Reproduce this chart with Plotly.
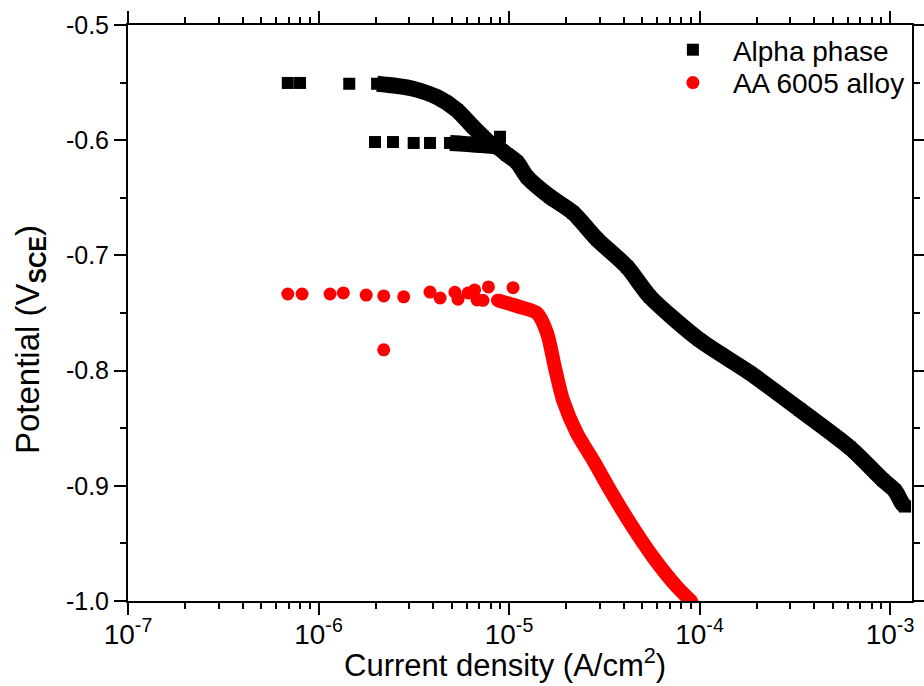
import numpy as np
import plotly.graph_objects as go

# ---- Alpha phase polarisation data (current density in A/cm^2, potential in V vs SCE)
alpha_sparse_i = [6.9e-7, 8.0e-7, 1.45e-6, 8.97e-6, 1.98e-6, 2.46e-6, 3.16e-6, 3.85e-6]
alpha_sparse_e = [-0.5503, -0.5503, -0.551, -0.597, -0.6016, -0.6016, -0.6024, -0.6024]

alpha_upper_i = [2.03e-6, 3.02e-6, 4.19e-6, 5.33e-6, 6.47e-6, 7.3e-6, 8.2e-6]
alpha_upper_e = [-0.551, -0.5547, -0.5625, -0.5738, -0.5885, -0.597, -0.605]

alpha_lower_i = [4.9e-6, 6.8e-6, 8.65e-6, 9.77e-6, 1.1e-5, 1.245e-5, 1.64e-5, 2.17e-5,
                 2.9e-5, 4.17e-5, 5.5e-5, 1.0e-4, 1.84e-4, 3.37e-4, 6.17e-4, 9.2e-4,
                 1.06e-3, 1.156e-3, 1.2e-3]
alpha_lower_e = [-0.6024, -0.604, -0.606, -0.6125, -0.619, -0.632, -0.649, -0.663,
                 -0.686, -0.71, -0.736, -0.7734, -0.802, -0.834, -0.867, -0.895,
                 -0.904, -0.915, -0.918]

# ---- AA 6005 alloy polarisation data
alloy_sparse_i = [6.9e-7, 8.2e-7, 1.15e-6, 1.35e-6, 1.78e-6, 2.2e-6, 2.8e-6, 3.85e-6,
                  4.35e-6, 5.2e-6, 5.4e-6, 6.1e-6, 6.6e-6, 6.8e-6, 7.3e-6, 7.8e-6,
                  1.05e-5, 2.2e-6]
alloy_sparse_e = [-0.7335, -0.7335, -0.7335, -0.7326, -0.7344, -0.7352, -0.736, -0.7318,
                  -0.737, -0.732, -0.738, -0.7326, -0.730, -0.7387, -0.739, -0.7274,
                  -0.728, -0.782]

alloy_curve_i = [8.7e-6, 1.143e-5, 1.40e-5, 1.585e-5, 1.74e-5, 1.92e-5, 2.27e-5, 2.76e-5,
                 3.39e-5, 4.32e-5, 5.70e-5, 7.62e-5, 9.14e-5]
alloy_curve_e = [-0.739, -0.7448, -0.750, -0.7674, -0.7969, -0.8255, -0.8542, -0.8776,
                 -0.9036, -0.9323, -0.9618, -0.9878, -1.0009]

# ---- Axis ticks
x_tick_vals = [1e-7, 1e-6, 1e-5, 1e-4, 1e-3]
x_tick_text = ["10<sup>-7</sup>", "10<sup>-6</sup>", "10<sup>-5</sup>",
               "10<sup>-4</sup>", "10<sup>-3</sup>"]
y_tick_vals = [-0.5, -0.6, -0.7, -0.8, -0.9, -1.0]
y_tick_text = ["-0.5", "-0.6", "-0.7", "-0.8", "-0.9", "-1.0"]

x_range_log = [-7.0, -2.8845]
x_minor_vals = [k * 10.0 ** p for p in range(-7, -2) for k in range(2, 10)
                if np.log10(k * 10.0 ** p) < x_range_log[1]]

FONT = "Liberation Sans, Arial, sans-serif"
BLACK = "#000000"
RED = "#ff0000"

fig = go.Figure()

# dense measurement stretches are drawn as thick smoothed traces through the read points
for xs, ys in [(alpha_upper_i, alpha_upper_e), (alpha_lower_i, alpha_lower_e)]:
    fig.add_trace(go.Scatter(x=xs, y=ys, mode="lines+markers",
                             line=dict(color=BLACK, width=16, shape="spline", smoothing=0.7),
                             marker=dict(symbol="square", size=12, color=BLACK),
                             showlegend=False, hoverinfo="x+y"))
fig.add_trace(go.Scatter(x=alloy_curve_i, y=alloy_curve_e, mode="lines+markers",
                         line=dict(color=RED, width=14, shape="spline", smoothing=0.7),
                         marker=dict(symbol="circle", size=13, color=RED),
                         showlegend=False, hoverinfo="x+y"))

# scattered points, which also carry the legend entries (one legend box per series)
fig.add_trace(go.Scatter(x=alpha_sparse_i, y=alpha_sparse_e, mode="markers",
                         name="Alpha phase", legend="legend",
                         marker=dict(symbol="square", size=12, color=BLACK)))
fig.add_trace(go.Scatter(x=alloy_sparse_i, y=alloy_sparse_e, mode="markers",
                         name="AA 6005 alloy", legend="legend2",
                         marker=dict(symbol="circle", size=13, color=RED)))

legend_style = dict(xanchor="left", yanchor="top", bgcolor="rgba(0,0,0,0)",
                    font=dict(size=28, family=FONT), itemwidth=70)

fig.update_layout(
    width=924, height=686,
    margin=dict(l=128, r=12, t=25, b=85),
    paper_bgcolor="white", plot_bgcolor="white",
    font=dict(family=FONT, color=BLACK, size=24),
    legend=dict(x=0.6695, y=1.0, **legend_style),
    legend2=dict(x=0.6695, y=0.943, **legend_style),
    xaxis=dict(type="log", range=x_range_log, automargin=False,
               tickmode="array", tickvals=x_tick_vals, ticktext=x_tick_text,
               ticks="outside", ticklen=12, tickwidth=2, tickcolor=BLACK,
               ticklabelstandoff=-5,
               minor=dict(tickmode="array", tickvals=x_minor_vals, ticks="outside",
                          ticklen=6, tickwidth=1.5, tickcolor=BLACK, showgrid=False),
               showline=True, linewidth=2, linecolor=BLACK, mirror="ticks",
               showgrid=False, zeroline=False,
               tickfont=dict(size=28, family=FONT)),
    yaxis=dict(range=[-1.0, -0.5], automargin=False,
               tickmode="array", tickvals=y_tick_vals, ticktext=y_tick_text,
               ticks="outside", ticklen=12, tickwidth=2, tickcolor=BLACK,
               minor=dict(dtick=0.05, tick0=-1.0, ticks="outside", ticklen=6,
                          tickwidth=1.5, tickcolor=BLACK, showgrid=False),
               showline=True, linewidth=2, linecolor=BLACK, mirror="ticks",
               showgrid=False, zeroline=False,
               tickfont=dict(size=25, family=FONT)),
    annotations=[
        dict(text="Current density (A/cm<sup>2</sup>)", xref="paper", yref="paper",
             x=0.481, y=-0.108, xanchor="center", yanchor="middle", showarrow=False,
             font=dict(size=31, family=FONT, color=BLACK)),
        dict(text="Potential (V<sub><b>SCE</b></sub>)", xref="paper", yref="paper",
             x=-0.125, y=0.453, xanchor="center", yanchor="middle", showarrow=False,
             textangle=-90, font=dict(size=33, family=FONT, color=BLACK)),
    ],
)

fig.write_html("out.html")
